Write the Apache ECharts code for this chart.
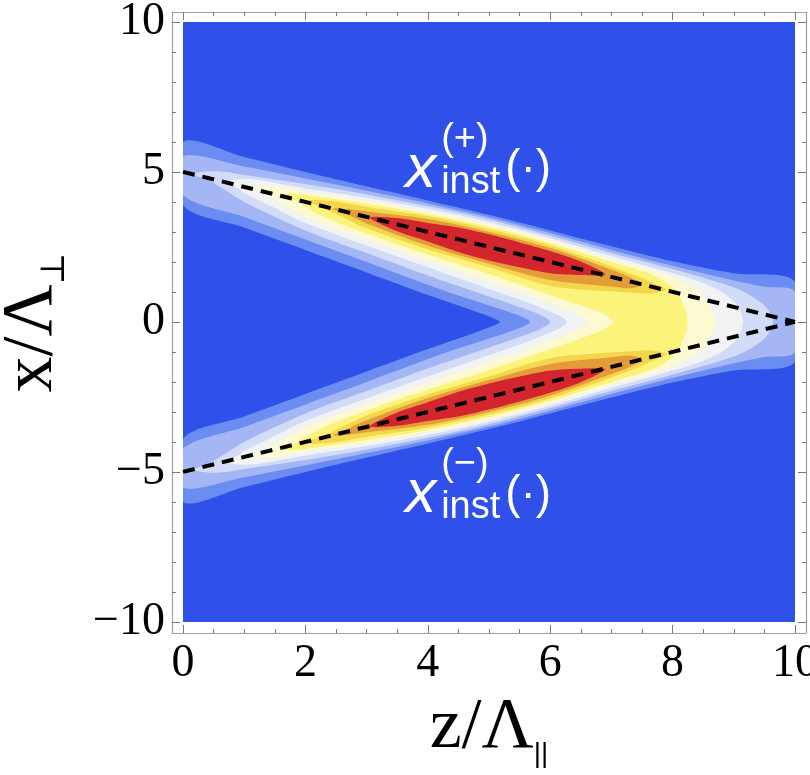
<!DOCTYPE html>
<html>
<head>
<meta charset="utf-8">
<script src="https://cdn.jsdelivr.net/npm/echarts@6/dist/echarts.min.js"></script>
<style>
  html, body { margin: 0; background: #fff; }
  #chart { width: 810px; height: 775px; }
</style>
</head>
<body>
<div id="chart"></div>
<script>
// contour bands, lowest first (background, then levels 1..9)
const bandColors = ['#2f50e9', '#6b8cf0', '#a4b7f4', '#d3dcf7', '#f2f3f3', '#fdfad1', '#fcf37b', '#f3d64b', '#e49c3b', '#d3252d']

// contour edges of the upper branch as [z, x]
// (the lower branch is its mirror image in x)
// levels 1..6 are chevrons: outer edge + inner edge ending on x = 0
const lev1Outer = [[0, 6.0], [1, 5.5], [2, 5.0], [3, 4.52], [4, 4.05], [5, 3.57], [6, 3.05], [7, 2.52], [8, 2.02], [9, 1.62], [10, 1.33]]
const lev1Inner = [[0, 3.9], [1, 3.15], [2, 2.4], [3, 1.65], [4, 0.9], [4.5, 0.55], [4.85, 0.3], [5.05, 0.14], [5.18, 0]]
const lev2Outer = [[0, 5.52], [1, 5.18], [2, 4.78], [3, 4.37], [4, 3.95], [5, 3.49], [6, 2.96], [7, 2.4], [8, 1.87], [9, 1.38], [9.5, 1.17], [10, 1.0]]
const lev2Inner = [[0, 4.23], [1, 3.5], [2, 2.75], [3, 2.0], [4, 1.24], [4.5, 0.88], [5, 0.55], [5.4, 0.28], [5.67, 0]]
const lev3Outer = [[0.15, 4.92], [0.4, 5.02], [0.7, 5.0], [1, 4.9], [2, 4.6], [3, 4.25], [4, 3.86], [5, 3.41], [6, 2.87], [7, 2.3], [8, 1.76], [9, 1.15], [9.3, 0.85], [9.5, 0.55], [9.6, 0.28], [9.64, 0]]
const lev3Inner = [[0.4, 4.75], [0.7, 4.38], [1, 4.0], [2, 3.05], [3, 2.3], [4, 1.55], [5, 0.85], [5.5, 0.5], [5.8, 0.27], [6.0, 0]]
const lev4Outer = [[0.7, 4.65], [0.9, 4.75], [1.2, 4.74], [2, 4.45], [3, 4.14], [4, 3.77], [5, 3.33], [6, 2.79], [7, 2.2], [8, 1.62], [8.5, 1.3], [8.8, 1.0], [9.0, 0.68], [9.1, 0.4], [9.15, 0]]
const lev4Inner = [[0.9, 4.45], [1.0, 4.3], [1.5, 3.8], [2, 3.3], [3, 2.55], [4, 1.82], [5, 1.1], [5.5, 0.75], [6.0, 0.35], [6.2, 0.15], [6.27, 0]]
const lev5Outer = [[1.12, 4.44], [1.35, 4.52], [1.7, 4.46], [2, 4.33], [3, 4.04], [4, 3.69], [5, 3.25], [6, 2.71], [7, 2.1], [7.5, 1.82], [8, 1.5], [8.3, 1.18], [8.5, 0.85], [8.62, 0.5], [8.68, 0.25], [8.7, 0]]
const lev5Inner = [[1.35, 4.28], [1.7, 3.85], [2, 3.5], [3, 2.75], [4, 2.05], [5, 1.35], [5.5, 1.02], [6, 0.62], [6.4, 0.3], [6.6, 0]]
const lev6Outer = [[1.58, 4.21], [1.8, 4.28], [2.2, 4.18], [3, 3.94], [4, 3.6], [5, 3.17], [6, 2.63], [7, 2.0], [7.5, 1.7], [7.8, 1.45], [8.0, 1.15], [8.15, 0.7], [8.22, 0.35], [8.24, 0]]
const lev6Inner = [[1.8, 4.08], [2.2, 3.6], [3, 2.95], [4, 2.25], [5, 1.6], [6, 0.9], [6.5, 0.55], [6.85, 0.28], [7.03, 0]]
// levels 7..9 are islands: outer edge tip to tip, inner edge between the tips
const lev7Outer = [[1.95, 4.02], [2.2, 4.06], [2.6, 3.98], [3, 3.83], [4, 3.52], [5, 3.09], [6, 2.55], [7, 1.85], [7.5, 1.46], [7.7, 1.28], [7.9, 1.08]]
const lev7Inner = [[2.2, 3.88], [2.6, 3.5], [3, 3.12], [4, 2.42], [5, 1.82], [6, 1.2], [7, 1.02], [7.5, 0.95], [7.7, 0.96]]
const lev8Outer = [[2.45, 3.78], [2.7, 3.76], [3, 3.68], [4, 3.43], [5, 3.0], [6, 2.46], [7, 1.74], [7.3, 1.5], [7.5, 1.25]]
const lev8Inner = [[2.7, 3.56], [3, 3.28], [4, 2.54], [5, 1.94], [6, 1.4], [7, 1.18], [7.3, 1.12]]
const lev9Outer = [[3.05, 3.48], [3.5, 3.46], [4, 3.3], [4.5, 3.15], [5, 2.92], [5.5, 2.65], [6, 2.36], [6.5, 2.01], [6.9, 1.58]]
const lev9Inner = [[3.5, 3.02], [4, 2.68], [4.5, 2.33], [5, 2.05], [5.5, 1.82], [6, 1.62], [6.5, 1.56]]

// x_inst(z) guide lines
const instPlus = [[0, 5], [10, 0]]
const instMinus = [[0, -5], [10, 0]]

// labels next to the branches
const annotZ = [3.63, 3.63]
const annotX = [5.07, -5.77]
const annotSign = ['+', '−']

const xMajor = [0, 2, 4, 6, 8, 10]
const xMinor = [0.5, 1, 1.5, 2.5, 3, 3.5, 4.5, 5, 5.5, 6.5, 7, 7.5, 8.5, 9, 9.5]
const yMajor = [-10, -5, 0, 5, 10]
const yMinor = [-9, -8, -7, -6, -4, -3, -2, -1, 1, 2, 3, 4, 6, 7, 8, 9]

const flip = (pts) => pts.map(([z, x]) => [z, -x])

// chevron: upper outer edge, lower outer edge back, lower inner edge to apex, upper inner edge back
const chevron = (outer, inner) => {
  const back = flip(outer).reverse()
  if (outer[outer.length - 1][1] === 0) back.shift()
  const innerUp = inner.slice(0, -1).reverse()
  return [...outer, ...back, ...flip(inner), ...innerUp]
}
const island = (outer, inner) => [...outer, ...inner.slice().reverse()]

const polys = [{ pts: [[0, -10], [10, -10], [10, 10], [0, 10]], color: bandColors[0], smooth: 0 }]
const chevrons = [[lev1Outer, lev1Inner], [lev2Outer, lev2Inner], [lev3Outer, lev3Inner], [lev4Outer, lev4Inner], [lev5Outer, lev5Inner], [lev6Outer, lev6Inner]]
chevrons.forEach(([o, i], k) => polys.push({ pts: chevron(o, i), color: bandColors[k + 1], smooth: 0.3 }))
const islands = [[lev7Outer, lev7Inner], [lev8Outer, lev8Inner], [lev9Outer, lev9Inner]]
islands.forEach(([o, i], k) => {
  const up = island(o, i)
  polys.push({ pts: up, color: bandColors[k + 7], smooth: 0.3 })
  polys.push({ pts: flip(up), color: bandColors[k + 7], smooth: 0.3 })
})

const serif = '"Liberation Serif", "DejaVu Serif", serif'
const sans = '"Liberation Sans", Arial, sans-serif'
const fmt = (v) => (v < 0 ? '−' + (-v) : String(v))
const tickLine = { color: '#7a7a7a', width: 1 }
const frameLine = { show: true, onZero: false, lineStyle: { color: '#a0a0a0', width: 1.2 } }
const noLine = { show: false, onZero: false }

const xAxisBase = { type: 'value', min: -0.18, max: 10.18, splitLine: { show: false }, z: 10 }
const yAxisBase = { type: 'value', min: -10.37, max: 10.33, splitLine: { show: false }, z: 10 }

const chart = echarts.init(document.getElementById('chart'))
chart.setOption({
  animation: false,
  grid: { left: 172, top: 12, width: 634, height: 621, containLabel: false, outerBoundsMode: 'none' },
  xAxis: [
    { ...xAxisBase, position: 'bottom', axisLine: frameLine,
      axisTick: { show: true, inside: true, length: 8, customValues: xMajor, lineStyle: tickLine },
      axisLabel: { customValues: xMajor, formatter: fmt, fontFamily: serif, fontSize: 46, color: '#000', margin: 8 },
      name: '{a|z/Λ}{s|||}', nameLocation: 'middle', nameGap: 52,
      nameTextStyle: { rich: { a: { fontFamily: serif, fontSize: 72, color: '#000', lineHeight: 80 },
        s: { fontFamily: sans, fontSize: 28, color: '#000', verticalAlign: 'bottom', lineHeight: 28 } } } },
    { ...xAxisBase, position: 'bottom', axisLine: noLine,
      axisTick: { show: true, inside: true, length: 4, customValues: xMinor, lineStyle: tickLine }, axisLabel: { show: false } },
    { ...xAxisBase, position: 'top', axisLine: frameLine,
      axisTick: { show: true, inside: true, length: 8, customValues: xMajor, lineStyle: tickLine }, axisLabel: { show: false } },
    { ...xAxisBase, position: 'top', axisLine: noLine,
      axisTick: { show: true, inside: true, length: 4, customValues: xMinor, lineStyle: tickLine }, axisLabel: { show: false } }
  ],
  yAxis: [
    { ...yAxisBase, position: 'left', axisLine: frameLine,
      axisTick: { show: true, inside: true, length: 8, customValues: yMajor, lineStyle: tickLine },
      axisLabel: { customValues: yMajor, formatter: fmt, fontFamily: serif, fontSize: 46, color: '#000', margin: 7 },
      name: '{a|x/Λ}{s|⊥}', nameLocation: 'middle', nameRotate: 90, nameGap: 100,
      nameTextStyle: { rich: { a: { fontFamily: serif, fontSize: 72, color: '#000', lineHeight: 80 },
        s: { fontFamily: serif, fontSize: 34, color: '#000', verticalAlign: 'bottom', lineHeight: 34 } } } },
    { ...yAxisBase, position: 'left', axisLine: noLine,
      axisTick: { show: true, inside: true, length: 4, customValues: yMinor, lineStyle: tickLine }, axisLabel: { show: false } },
    { ...yAxisBase, position: 'right', axisLine: frameLine,
      axisTick: { show: true, inside: true, length: 8, customValues: yMajor, lineStyle: tickLine }, axisLabel: { show: false } },
    { ...yAxisBase, position: 'right', axisLine: noLine,
      axisTick: { show: true, inside: true, length: 4, customValues: yMinor, lineStyle: tickLine }, axisLabel: { show: false } }
  ],
  series: [
    {
      type: 'custom', silent: true, clip: true,
      data: polys.map((p, i) => [5, 0, i]),
      renderItem: (params, api) => {
        const p = polys[api.value(2)]
        const tl = api.coord([0, 10])
        const br = api.coord([10, -10])
        return {
          type: 'polygon',
          shape: { points: p.pts.map((q) => api.coord(q)), smooth: p.smooth },
          style: { fill: p.color },
          clipPath: { type: 'rect', shape: { x: tl[0], y: tl[1], width: br[0] - tl[0], height: br[1] - tl[1] } }
        }
      }
    },
    { type: 'line', data: instPlus, symbol: 'none', silent: true, z: 5,
      lineStyle: { color: '#000', width: 4, type: [12, 8] } },
    { type: 'line', data: instMinus, symbol: 'none', silent: true, z: 5,
      lineStyle: { color: '#000', width: 4, type: [12, 8] } },
    {
      type: 'custom', silent: true, z: 6,
      data: annotZ.map((z, i) => [z, annotX[i], i]),
      renderItem: (params, api) => {
        const p = api.coord([api.value(0), api.value(1)])
        const sign = annotSign[api.value(2)]
        const txt = (text, dx, dy, size, style) => ({
          type: 'text', x: p[0] + dx, y: p[1] + dy,
          style: { text, fill: '#fff', font: `${style || ''} ${size}px ${sans}`, align: 'left', verticalAlign: 'middle' }
        })
        return {
          type: 'group',
          children: [
            txt('x', 0, 0, 62, 'italic'),
            txt(`(${sign})`, 36, -30, 38),
            txt('inst', 36, 13, 38),
            txt('(·)', 100, 0, 46)
          ]
        }
      }
    }
  ]
})
</script>
</body>
</html>
